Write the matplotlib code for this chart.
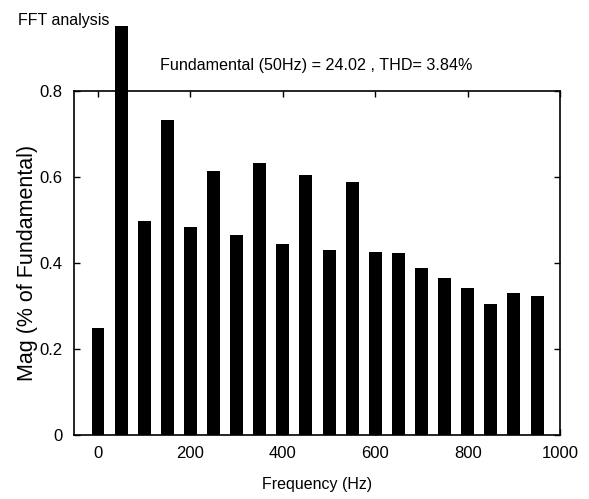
import numpy as np
import matplotlib
matplotlib.use("Agg")
import matplotlib.pyplot as plt

# harmonic frequencies and magnitudes
freq_hz = [0, 50, 100, 150, 200, 250, 300, 350, 400, 450,
           500, 550, 600, 650, 700, 750, 800, 850, 900, 950]
mag = [0.248, 0.952, 0.497, 0.732, 0.484, 0.613, 0.464, 0.633, 0.444, 0.604,
       0.430, 0.588, 0.426, 0.422, 0.389, 0.364, 0.342, 0.305, 0.330, 0.322]
x_ticks = [0, 200, 400, 600, 800, 1000]
y_ticks = [0, 0.2, 0.4, 0.6, 0.8]
y_tick_labels = ["0", "0.2", "0.4", "0.6", "0.8"]

font = "Liberation Sans"

fig = plt.figure(figsize=(5.89, 4.99), dpi=100)
ax = fig.add_axes([0.1256, 0.129, 0.8254, 0.6886])

ax.bar(freq_hz, mag, width=28, color="black", clip_on=False, zorder=3)

ax.set_xlim(-52, 1000)
ax.set_ylim(0, 0.8)
ax.set_xticks(x_ticks)
ax.set_yticks(y_ticks)
ax.set_yticklabels(y_tick_labels)
ax.tick_params(direction="in", length=4, width=1, top=True, right=True,
               labelsize=12, pad=8)
for lab in ax.get_xticklabels() + ax.get_yticklabels():
    lab.set_family(font)
for s in ax.spines.values():
    s.set_linewidth(1.2)

ax.set_xlabel("Frequency (Hz)", fontsize=11.5, family=font, labelpad=12)
ax.set_ylabel("Mag (% of Fundamental)", fontsize=15.5, family=font,
              va="center")
ax.yaxis.set_label_coords(-0.095, 0.5)

fig.text(0.03, 0.958, "FFT analysis", fontsize=11.5, family=font, va="center")
fig.text(0.272, 0.868, "Fundamental (50Hz) = 24.02 , THD= 3.84%", fontsize=11.6,
         family=font, va="center")

fig.savefig("out.png", dpi=100)
